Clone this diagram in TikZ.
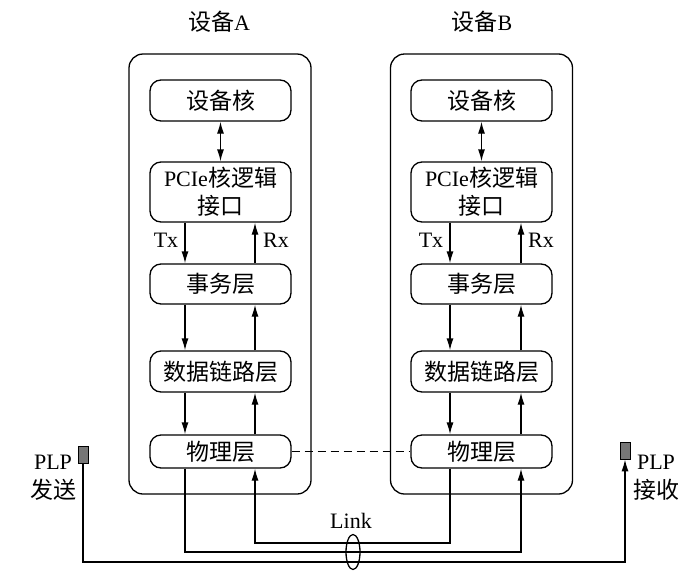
\documentclass[tikz,border=0pt]{standalone}
\usepackage{fontspec}
\setmainfont{Liberation Serif}
\newfontfamily\cjk{Noto Sans CJK SC}
\usetikzlibrary{arrows.meta,shapes.geometric}
\definecolor{plpgray}{RGB}{118,118,118}
\begin{document}
\begin{tikzpicture}[x=1pt,y=-1pt,
  font=\fontsize{22}{28}\selectfont,
  cjkfont/.style={font=\fontsize{23}{28}\selectfont\cjk},
  layer/.style={draw,line width=1.3pt,rounded corners=11pt,minimum width=141pt,inner sep=0pt,align=center},
  devbox/.style={draw,line width=1.3pt,rounded corners=14pt,minimum width=182pt,minimum height=440pt,inner sep=0pt},
  arr/.style={line width=1.3pt,-{Latex[length=12pt,width=7pt]}},
  darr/.style={line width=1.3pt,{Latex[length=12pt,width=7pt]}-{Latex[length=12pt,width=7pt]}},
  lbl/.style={inner sep=0pt},
  plpbox/.style={draw,line width=0.8pt,fill=plpgray,minimum width=10pt,minimum height=17pt,inner sep=0pt},
  linkring/.style={draw,line width=1.3pt,ellipse,minimum width=14pt,minimum height=35pt,inner sep=0pt}
]
\useasboundingbox (0,0) rectangle (693,576);
\newcommand{\zh}[1]{{\fontsize{23}{28}\selectfont\cjk #1}}

% device frames
\node[devbox] (devA) at (220,274) {};
\node[devbox] (devB) at (481.5,274) {};
\node[lbl] (titleA) at (219,22) {\zh{设备}A};
\node[lbl] (titleB) at (482,22) {\zh{设备}B};

% device A layers
\node[layer,minimum height=41pt] (coreA) at (220.5,100.5) {\zh{设备核}};
\node[layer,minimum height=60pt] (pcieA) at (220.5,192) {PCIe\zh{核逻辑}\\\zh{接口}};
\node[layer,minimum height=40pt] (transA) at (220.5,284) {\zh{事务层}};
\node[layer,minimum height=41pt] (dllA) at (220.5,371.5) {\zh{数据链路层}};
\node[layer,minimum height=33pt] (phyA) at (220.5,451.5) {\zh{物理层}};

% device B layers
\node[layer,minimum height=41pt] (coreB) at (481.5,100.5) {\zh{设备核}};
\node[layer,minimum height=60pt] (pcieB) at (481.5,192) {PCIe\zh{核逻辑}\\\zh{接口}};
\node[layer,minimum height=40pt] (transB) at (481.5,284) {\zh{事务层}};
\node[layer,minimum height=41pt] (dllB) at (481.5,371.5) {\zh{数据链路层}};
\node[layer,minimum height=33pt] (phyB) at (481.5,451.5) {\zh{物理层}};

% vertical arrows A
\draw[darr] (coreA) -- (pcieA);
\draw[arr] (pcieA.south -| 185,0) -- (transA.north -| 185,0);
\draw[arr] (transA.north -| 255,0) -- (pcieA.south -| 255,0);
\draw[arr] (transA.south -| 185,0) -- (dllA.north -| 185,0);
\draw[arr] (dllA.north -| 255,0) -- (transA.south -| 255,0);
\draw[arr] (dllA.south -| 185,0) -- (phyA.north -| 185,0);
\draw[arr] (phyA.north -| 255,0) -- (dllA.south -| 255,0);
\node[lbl] (txA) at (166,240) {Tx};
\node[lbl] (rxA) at (276,240) {Rx};

% vertical arrows B
\draw[darr] (coreB) -- (pcieB);
\draw[arr] (pcieB.south -| 450,0) -- (transB.north -| 450,0);
\draw[arr] (transB.north -| 521,0) -- (pcieB.south -| 521,0);
\draw[arr] (transB.south -| 450,0) -- (dllB.north -| 450,0);
\draw[arr] (dllB.north -| 521,0) -- (transB.south -| 521,0);
\draw[arr] (dllB.south -| 450,0) -- (phyB.north -| 450,0);
\draw[arr] (phyB.north -| 521,0) -- (dllB.south -| 521,0);
\node[lbl] (txB) at (431,240) {Tx};
\node[lbl] (rxB) at (541,240) {Rx};

% logical link between physical layers
\draw[line width=1.3pt,dash pattern=on 8pt off 5pt] (phyA.east) -- (phyB.west);

% physical link
\draw[arr] (phyA.south -| 185,0) -- (185,552) -| (phyB.south -| 521,0);
\draw[arr] (phyB.south -| 450,0) -- (450,543) -| (phyA.south -| 255,0);

% PLP
\node[plpbox] (plpS) at (83,454.5) {};
\node[plpbox] (plpR) at (625,450.5) {};
\draw[arr] (plpS.south) -- (83,562) -| (plpR.south);
\node[lbl] (plpSt) at (53,462) {PLP};
\node[lbl] (plpSc) at (53,490) {\zh{发送}};
\node[lbl] (plpRt) at (656,462) {PLP};
\node[lbl] (plpRc) at (656,490) {\zh{接收}};

% link ring
\node[linkring] (ring) at (353,552) {};
\node[lbl] (linklbl) at (351,521) {Link};
\end{tikzpicture}
\end{document}
